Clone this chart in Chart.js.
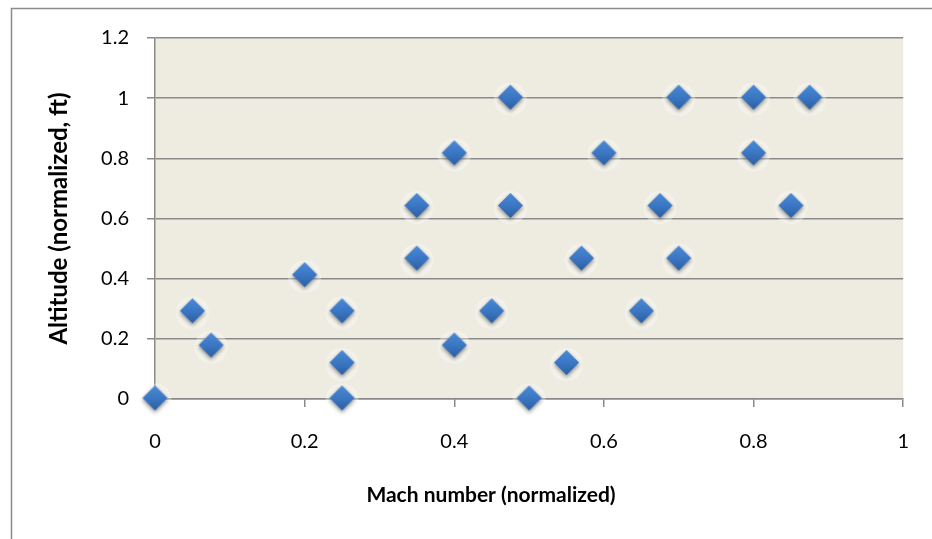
<!DOCTYPE html>
<html>
<head>
<meta charset="utf-8">
<script src="https://cdn.jsdelivr.net/npm/chart.js@4/dist/chart.umd.min.js"></script>
<style>
  html, body { margin: 0; padding: 0; background: #fff; }
  #wrap { width: 932px; height: 539px; position: relative; }
</style>
</head>
<body>
<div id="wrap"><canvas id="machChart"></canvas></div>
<script>
// test points: normalized Mach number vs normalized altitude
const machX = [0, 0.05, 0.075, 0.2, 0.25, 0.25, 0.25, 0.35, 0.35, 0.4, 0.4, 0.45, 0.475, 0.475,
               0.5, 0.55, 0.57, 0.6, 0.65, 0.675, 0.7, 0.7, 0.8, 0.8, 0.85, 0.875];
const altY  = [0, 0.29, 0.176, 0.41, 0.29, 0.118, 0, 0.64, 0.465, 0.815, 0.176, 0.29, 1, 0.64,
               0, 0.118, 0.465, 0.815, 0.29, 0.64, 1, 0.465, 1, 0.815, 0.64, 1];
const xTickLabels = ['0', '0.2', '0.4', '0.6', '0.8', '1'];
const yTickLabels = ['0', '0.2', '0.4', '0.6', '0.8', '1', '1.2'];

const FONT = 'Lato, "Open Sans", sans-serif';

// blue diamond marker with a soft drop shadow
function makeDiamond(r) {
    const size = 2 * r + 14;
    const c = document.createElement('canvas');
    c.width = size; c.height = size;
    const g = c.getContext('2d');
    const cx = size / 2, cy = size / 2 - 1;

    // faint light halo
    g.fillStyle = 'rgba(255,255,255,0.35)';
    g.beginPath();
    g.arc(cx, cy + 2, r + 4, 0, Math.PI * 2);
    g.fill();

    g.save();
    g.shadowColor = 'rgba(0,0,0,0.45)';
    g.shadowBlur = 4;
    g.shadowOffsetY = 2;
    const grad = g.createLinearGradient(0, cy - r, 0, cy + r);
    grad.addColorStop(0, '#4a8ad6');
    grad.addColorStop(0.55, '#3a75c2');
    grad.addColorStop(1, '#2b5f9f');
    g.fillStyle = grad;
    g.beginPath();
    g.moveTo(cx, cy - r);
    g.lineTo(cx + r, cy);
    g.lineTo(cx, cy + r);
    g.lineTo(cx - r, cy);
    g.closePath();
    g.fill();
    g.restore();
    return c;
}

const diamond = makeDiamond(12.5);

const framePlugin = {
    id: 'frame',
    beforeDraw(chart) {
        const { ctx, chartArea: a } = chart;
        ctx.save();
        ctx.fillStyle = '#eeece1';
        ctx.fillRect(a.left, a.top, a.right - a.left, a.bottom - a.top);
        ctx.strokeStyle = '#8a8a8a';
        ctx.lineWidth = 1.5;
        ctx.strokeRect(11.5, 8.5, 1000, 1000);
        ctx.restore();
    },
    afterDraw(chart) {
        const ctx = chart.ctx;
        ctx.save();
        ctx.fillStyle = '#000';
        ctx.font = 'bold 21px ' + FONT;
        ctx.textAlign = 'center';
        ctx.textBaseline = 'middle';
        ctx.fillText('Mach number (normalized)', 491, 495);
        ctx.restore();
    }
};

const points = machX.map((x, i) => ({ x: x, y: altY[i] }));

new Chart(document.getElementById('machChart'), {
    type: 'scatter',
    data: {
        datasets: [{
            data: points,
            pointStyle: diamond,
            pointRadius: 12,
            pointHoverRadius: 12,
            clip: false
        }]
    },
    options: {
        responsive: true,
        maintainAspectRatio: false,
        animation: false,
        layout: { padding: { left: 0, right: 26, top: 38, bottom: 0 } },
        plugins: { legend: { display: false }, tooltip: { enabled: false } },
        scales: {
            x: {
                type: 'linear',
                min: 0, max: 1,
                afterFit: s => { s.height = 140; },
                border: { display: true, color: '#8a8a8a', width: 1.5 },
                grid: { display: true, drawOnChartArea: false, drawTicks: true, tickLength: 8, color: '#8a8a8a', lineWidth: 1.5 },
                ticks: {
                    stepSize: 0.2,
                    padding: 23,
                    color: '#000',
                    font: { family: FONT, size: 20 },
                    maxRotation: 0,
                    callback: (v, i) => xTickLabels[i]
                }
            },
            y: {
                type: 'linear',
                min: 0, max: 1.2,
                afterFit: s => { s.width = 155; },
                border: { display: true, color: '#8a8a8a', width: 1.5 },
                grid: { display: true, drawOnChartArea: true, drawTicks: true, tickLength: 8, color: '#8a8a8a', lineWidth: 1.5 },
                ticks: {
                    stepSize: 0.2,
                    padding: 18,
                    color: '#000',
                    font: { family: FONT, size: 20 },
                    callback: (v, i) => yTickLabels[i]
                },
                title: {
                    display: true,
                    text: 'Altitude (normalized, ft)',
                    color: '#000',
                    font: { family: FONT, size: 24, weight: 'bold' },
                    padding: { top: 45, bottom: 0 }
                }
            }
        }
    },
    plugins: [framePlugin]
});
</script>
</body>
</html>
